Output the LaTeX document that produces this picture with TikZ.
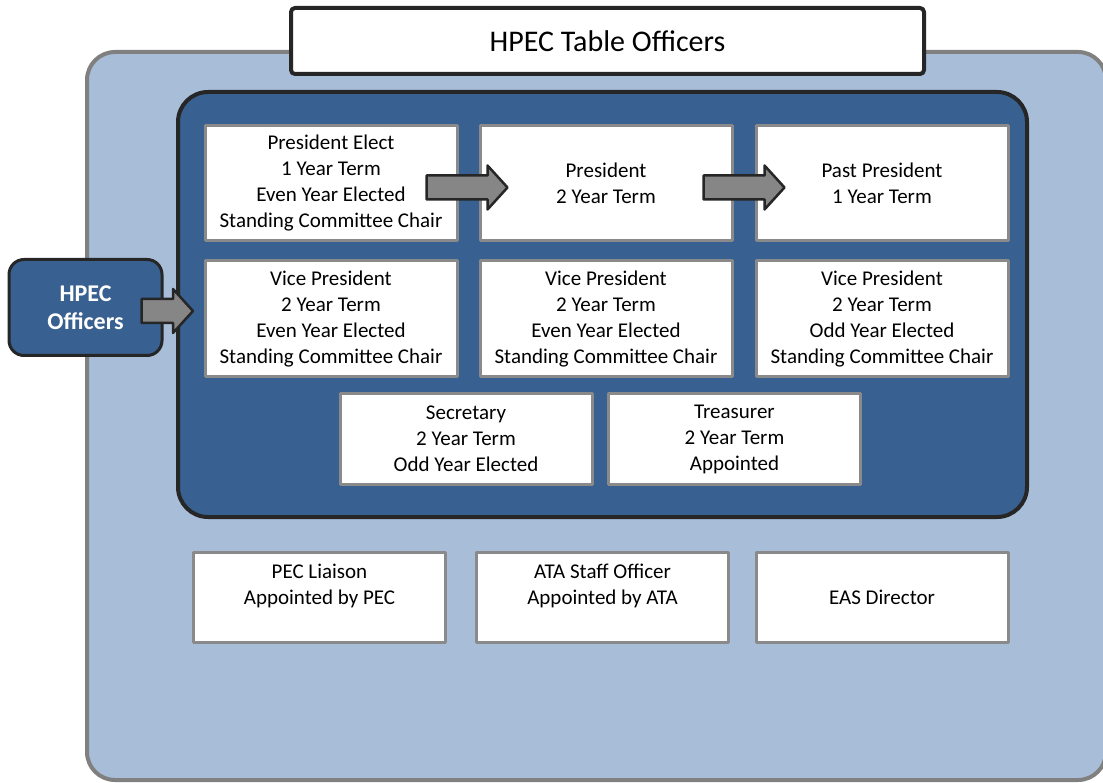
\documentclass[tikz,border=0pt]{standalone}
\usepackage{fontspec}
\setmainfont{Carlito}
\usetikzlibrary{calc}
\definecolor{paleblue}{RGB}{167,189,216}
\definecolor{deepblue}{RGB}{56,96,144}
\definecolor{frame}{RGB}{38,38,38}
\definecolor{boxgray}{RGB}{138,138,138}
\newcommand*\drawblockarrow[3][]{%
    % #2: tail, #3: tip
    \draw[blockarrow,#1] ($(#2)+(0,-12)$) -- ($(#3)+(-20,-12)$) -- ($(#3)+(-20,-22)$) -- (#3)
        -- ($(#3)+(-20,22)$) -- ($(#3)+(-20,12)$) -- ($(#2)+(0,12)$) -- cycle;
}
\begin{document}
\begin{tikzpicture}[x=1pt,y=-1pt,line join=round,
    officebox/.style={draw=boxgray,line width=3pt,fill=white,align=center,inner sep=0pt,
        minimum width=252pt,font=\fontsize{21}{26}\selectfont},
    blockarrow/.style={draw=frame,fill=gray!95,line width=2.5pt}]
    \useasboundingbox (0,0) rectangle (1103,783);
    \clip (0,0) rectangle (1103,783);
    % panels
    \draw[draw=gray,fill=paleblue,line width=4pt,rounded corners=28pt] (87,52) rectangle (1106,780);
    \draw[draw=frame,fill=deepblue,line width=4pt,rounded corners=30pt] (178,92) rectangle (1027,517);
    \node[draw=frame,fill=white,line width=4pt,rounded corners=4pt,minimum width=633pt,minimum height=66pt,
        font=\fontsize{30}{34}\selectfont] (title) at (607.5,41) {HPEC Table Officers};
    \node[draw=frame,fill=deepblue,line width=3pt,rounded corners=15pt,minimum width=153pt,minimum height=96pt,
        text=white,align=center,font=\fontsize{24}{28}\selectfont\bfseries] (officers) at (85.5,307.5) {HPEC\\Officers};
    % table officers
    \node[officebox,minimum height=115pt] (elect) at (331,183.5) {President Elect\\1 Year Term\\Even Year Elected\\Standing Committee Chair};
    \node[officebox,minimum height=115pt] (president) at (606,183.5) {President\\2 Year Term};
    \node[officebox,minimum height=115pt] (past) at (882,183.5) {Past President\\1 Year Term};
    \node[officebox,minimum height=116pt] (vp-a) at (331,319) {Vice President\\2 Year Term\\Even Year Elected\\Standing Committee Chair};
    \node[officebox,minimum height=116pt] (vp-b) at (606,319) {Vice President\\2 Year Term\\Even Year Elected\\Standing Committee Chair};
    \node[officebox,minimum height=116pt] (vp-c) at (882,319) {Vice President\\2 Year Term\\Odd Year Elected\\Standing Committee Chair};
    \node[officebox,minimum height=90pt] (secretary) at (466,439) {Secretary\\2 Year Term\\Odd Year Elected};
    \node[officebox,minimum height=90pt] (treasurer) at (734.5,439) {Treasurer\\2 Year Term\\Appointed};
    % other members
    \node[officebox,minimum height=90pt] (liaison) at (319.5,597) {PEC Liaison\\Appointed by PEC\\\mbox{}};
    \node[officebox,minimum height=90pt] (staff) at (602.5,597) {ATA Staff Officer\\Appointed by ATA\\\mbox{}};
    \node[officebox,minimum height=90pt] (director) at (882,597) {EAS Director};
    % arrows
    \coordinate (elect-out) at ($(elect.east)+(-32,4)$);
    \coordinate (president-in) at ($(president.west)+(29,4)$);
    \coordinate (president-out) at ($(president.east)+(-30,4)$);
    \coordinate (past-in) at ($(past.west)+(30,4)$);
    \coordinate (officers-out) at ($(officers.east)+(-22,3.5)$);
    \coordinate (panel-in) at (193,311);
    \drawblockarrow{elect-out}{president-in}
    \drawblockarrow{president-out}{past-in}
    \drawblockarrow{officers-out}{panel-in}
\end{tikzpicture}
\end{document}
